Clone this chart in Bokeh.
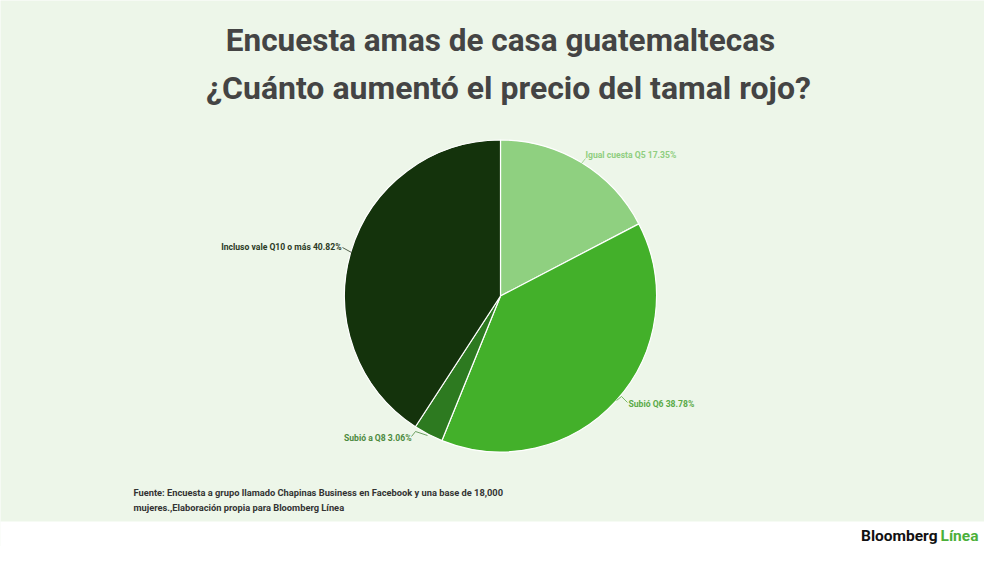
import numpy as np
from bokeh.plotting import figure
from bokeh.models import Range1d, ColumnDataSource
from bokeh.core.properties import value
from bokeh.embed import file_html
from bokeh.resources import INLINE

# ---- data ----
categories = ["Igual cuesta Q5", "Subió Q6", "Subió a Q8", "Incluso vale Q10 o más"]
percentages = [17.35, 38.78, 3.06, 40.82]
slice_colors = ["#8fd080", "#43b02a", "#2d7a20", "#14330c"]
label_colors = ["#8fce80", "#5aaa48", "#4c8a40", "#2b3a25"]
title_lines = ["Encuesta amas de casa guatemaltecas", "¿Cuánto aumentó el precio del tamal rojo?"]
source_lines = ["Fuente: Encuesta a grupo llamado Chapinas Business en Facebook y una base de 18,000",
                "mujeres.,Elaboración propia para Bloomberg Línea"]

W, H = 984, 546
def Y(ry):
    return 562 - ry

p = figure(width=W, height=H, output_backend="svg", toolbar_location=None,
           x_range=Range1d(0, 984), y_range=Range1d(16, 562),
           min_border=0, min_border_left=0, min_border_right=0,
           min_border_top=0, min_border_bottom=0)
p.axis.visible = False
p.grid.visible = False
p.outline_line_color = None
p.background_fill_color = "#edf6e9"
p.border_fill_color = "#edf6e9"

# white footer band
p.quad(left=-10, right=1000, bottom=0, top=Y(521), fill_color="white", line_color=None)

# pie
cx, cy, r = 500, Y(295.5), 156
vals = np.array(percentages) / sum(percentages)
cum = np.concatenate([[0], np.cumsum(vals)])
starts = np.pi / 2 - 2 * np.pi * cum[1:]
ends = np.pi / 2 - 2 * np.pi * cum[:-1]
src = ColumnDataSource(dict(start=starts, end=ends, color=slice_colors))
p.wedge(x=cx, y=cy, radius=r, radius_units="screen", start_angle="start", end_angle="end",
        fill_color="color", line_color="white", line_width=1.2, source=src)

# labels
lab_pos = [(585, 154, "left"), (628, 403, "left"), (411, 437, "right"), (341, 246, "right")]
leaders = [
    [(581, 163), (585, 158)],
    [(616, 400), (621, 396), (627, 402)],
    [(427, 435), (415, 431), (411, 436)],
    [(351, 252), (342, 247)],
]
for cat, pct, (lx, ly, al), col, ld in zip(categories, percentages, lab_pos, label_colors, leaders):
    p.text(x=[lx], y=[Y(ly)], text=[f"{cat} {pct:.2f}%"], text_align=al, text_baseline="middle",
           text_font=value("Roboto"), text_font_size="8.6px", text_color=col, text_font_style="bold")
    p.line(x=[q[0] for q in ld], y=[Y(q[1]) for q in ld], line_color=col, line_width=0.8)

# title
for line, my, fs in zip(title_lines, [40, 87], ["31.5px", "32px"]):
    p.text(x=[508 if my > 60 else 500], y=[Y(my)], text=[line], text_align="center", text_baseline="middle",
           text_font=value("Roboto"), text_font_size=fs, text_font_style="bold",
           text_color="#444444")

# source
for line, my in zip(source_lines, [492, 507]):
    p.text(x=[133], y=[Y(my)], text=[line], text_align="left", text_baseline="middle",
           text_font=value("Roboto"), text_font_size="9.3px", text_font_style="bold",
           text_color="#333333")

# logo
p.text(x=[937], y=[Y(535)], text=["Bloomberg"], text_align="right", text_baseline="middle",
       text_font=value("Roboto"), text_font_size="15.5px", text_font_style="bold", text_color="#111111")
p.text(x=[940], y=[Y(535)], text=["Línea"], text_align="left", text_baseline="middle",
       text_font=value("Roboto"), text_font_size="15.5px", text_font_style="bold", text_color="#4cb03a")

open("out.html", "w").write(file_html(p, INLINE))
